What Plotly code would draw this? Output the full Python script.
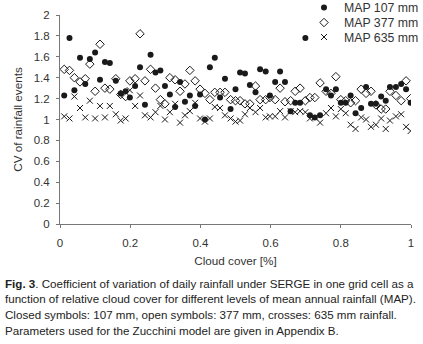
import plotly.graph_objects as go

cloud_cover = [0.012,0.027,0.041,0.057,0.072,0.085,0.100,0.114,0.128,0.142,0.159,0.173,0.187,0.199,0.214,0.228,0.242,0.258,0.272,0.286,0.299,0.313,0.328,0.342,0.356,0.370,0.385,0.399,0.413,0.427,0.441,0.456,0.470,0.486,0.500,0.513,0.527,0.541,0.557,0.570,0.586,0.598,0.613,0.627,0.641,0.657,0.670,0.684,0.699,0.712,0.726,0.741,0.758,0.772,0.786,0.800,0.814,0.828,0.842,0.858,0.872,0.886,0.900,0.915,0.928,0.940,0.957,0.972,0.986,0.999]

cv_map107 = [1.23,1.78,1.28,1.59,1.34,1.58,1.64,1.38,1.55,1.54,1.37,1.25,1.27,1.21,1.32,1.50,1.14,1.62,1.45,1.47,1.32,1.24,1.12,1.36,1.17,1.23,1.13,1.24,1.00,1.50,1.59,1.21,1.39,1.10,1.29,1.45,1.44,1.33,1.26,1.48,1.46,1.23,1.36,1.46,1.36,1.08,1.16,1.16,1.78,1.04,1.02,1.04,1.29,1.23,1.29,1.16,1.16,1.23,1.06,1.11,1.31,1.15,1.15,1.22,1.18,1.31,1.31,1.34,1.29,1.16]

cv_map377 = [1.48,1.47,1.40,1.36,1.39,1.53,1.27,1.72,1.30,1.29,1.39,1.24,1.22,1.37,1.39,1.82,1.37,1.48,1.30,1.19,1.15,1.40,1.38,1.27,1.34,1.47,1.37,1.29,1.25,1.19,1.26,1.26,1.26,1.19,1.18,1.18,1.15,1.15,1.32,1.19,1.19,1.21,1.19,1.30,1.17,1.18,1.27,1.30,1.18,1.21,1.21,1.35,1.27,1.25,1.41,1.19,1.18,1.16,1.18,1.29,1.25,1.27,1.14,1.10,1.10,1.27,1.23,1.18,1.37,1.20]

cv_map635 = [1.03,1.01,1.22,1.11,1.02,1.18,1.01,1.13,1.02,1.13,1.05,0.99,1.01,1.28,1.13,1.23,1.04,1.02,1.07,1.13,1.00,1.07,1.15,0.97,1.04,1.08,1.16,1.01,0.98,1.01,1.12,1.11,1.04,1.01,0.98,0.99,1.05,1.11,1.07,1.11,1.02,1.03,1.03,1.08,1.02,1.08,1.07,1.08,1.07,1.01,1.02,0.97,1.06,1.11,1.03,1.10,1.06,0.95,0.91,1.02,1.00,0.93,0.95,1.01,0.91,0.99,1.03,1.05,0.93,0.89]

series_names = ["MAP 107 mm", "MAP 377 mm", "MAP 635 mm"]
x_ticks = [0, 0.2, 0.4, 0.6, 0.8, 1]
y_ticks = [0, 0.2, 0.4, 0.6, 0.8, 1, 1.2, 1.4, 1.6, 1.8, 2]
caption_lines = [
    "<b>Fig. 3</b>. Coefficient of variation of daily rainfall under SERGE in one grid cell as a",
    "function of relative cloud cover for different levels of mean annual rainfall (MAP).",
    "Closed symbols: 107 mm, open symbols: 377 mm, crosses: 635 mm rainfall.",
    "Parameters used for the Zucchini model are given in Appendix B.",
]

FONT = "Liberation Sans, Arial, sans-serif"
INK = "#1a1a1a"

# plot area in pixels: x 60..411, y 15..224
L, R, T, B = 60, 12, 15, 120
PW, PH = 423 - L - R, 344 - T - B

def py(p):
    return (344 - B - p) / PH

def px(p):
    return (p - L) / PW

fig = go.Figure()
fig.add_trace(go.Scatter(x=cloud_cover, y=cv_map107, mode="markers", name=series_names[0], legend="legend",
                         marker=dict(symbol="circle", size=6, color=INK, line=dict(width=0))))
fig.add_trace(go.Scatter(x=cloud_cover, y=cv_map377, mode="markers", name=series_names[1], legend="legend2",
                         marker=dict(symbol="diamond-open", size=6.5, color=INK, line=dict(width=1, color=INK))))
fig.add_trace(go.Scatter(x=cloud_cover, y=cv_map635, mode="markers", name=series_names[2], legend="legend3",
                         marker=dict(symbol="x-thin-open", size=6, color=INK, line=dict(width=1, color=INK))))

axis_common = dict(showgrid=False, zeroline=False, showline=True, linecolor="#777", linewidth=1,
                   ticks="outside", ticklen=3, tickcolor="#777",
                   tickfont=dict(family=FONT, size=11.5, color="#333"))

fig.update_xaxes(range=[0, 1], tickvals=x_ticks, ticktext=[str(v) for v in x_ticks], ticklabelstandoff=5,
                 title=dict(text="Cloud cover [%]", font=dict(family=FONT, size=11.7, color="#333"), standoff=9),
                 **axis_common)
fig.update_yaxes(range=[0, 2], tickvals=y_ticks, ticktext=[f"{v:g}" for v in y_ticks], ticklabelstandoff=4,
                 title=dict(text="CV of rainfall events", font=dict(family=FONT, size=11.7, color="#333"), standoff=8),
                 **axis_common)

for i, line in enumerate(caption_lines):
    fig.add_annotation(text=line, xref="paper", yref="paper", x=px(3), y=0,
                       xanchor="left", yanchor="middle", yshift=-(283 - 224) - i * 15.7,
                       showarrow=False, align="left",
                       font=dict(family=FONT, size=11.6, color="#222"))

leg_common = dict(xanchor="left", yanchor="middle", bgcolor="rgba(0,0,0,0)",
                  font=dict(family=FONT, size=12.3, color="#333"), itemwidth=30)
fig.update_layout(
    width=423, height=344,
    margin=dict(l=L, r=R, t=T, b=B, autoexpand=False),
    paper_bgcolor="white", plot_bgcolor="white",
    showlegend=True,
    legend=dict(x=px(304), y=py(7.5), **leg_common),
    legend2=dict(x=px(304), y=py(22.5), **leg_common),
    legend3=dict(x=px(304), y=py(37), **leg_common),
    font=dict(family=FONT),
)

fig.write_html("out.html", config={"displayModeBar": False},
               post_script="document.body.style.margin='0';document.body.style.overflow='hidden';")
